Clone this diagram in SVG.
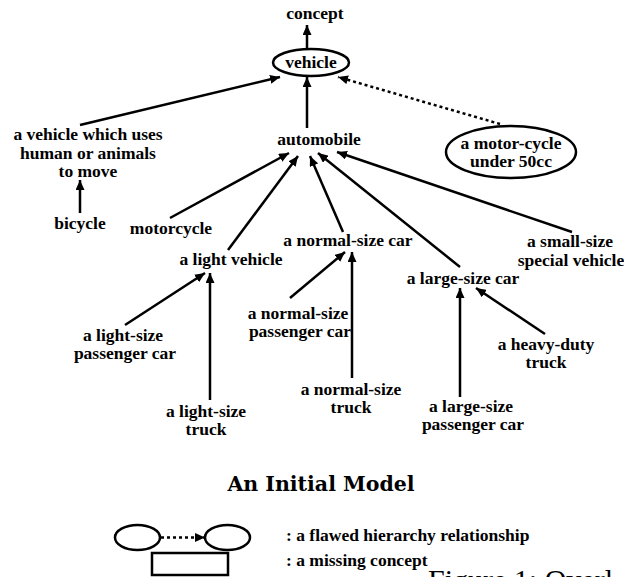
<svg xmlns="http://www.w3.org/2000/svg" width="624" height="577" viewBox="0 0 624 577">
<style>
text{font-family:"Liberation Serif","Times New Roman",serif;font-weight:bold;font-size:17.5px;fill:#000;text-anchor:middle}
.lg{text-anchor:start}
.cap{font-family:"DejaVu Serif",serif;font-size:20.5px}
.fig{font-weight:normal;font-size:30px;text-anchor:start}
.e{fill:#fff;stroke:#000;stroke-width:2.5}
.c line{stroke:#000;stroke-width:2.5;marker-end:url(#ah)}
.c .d{stroke-dasharray:3 3}
</style>
<defs>
<marker id="ah" markerUnits="userSpaceOnUse" markerWidth="11" markerHeight="9" refX="10" refY="4.5" orient="auto">
<path d="M0,0 L10,4.5 L0,9 z" fill="#000"/>
</marker>
</defs>
<rect width="624" height="577" fill="#fff"/>
<g class="c" id="connectors">
<line x1="307" y1="49" x2="307" y2="25"/>
<line x1="80" y1="125" x2="280" y2="77"/>
<line x1="307" y1="128" x2="307" y2="77"/>
<line class="d" x1="500" y1="124" x2="338" y2="77"/>
<line x1="80" y1="213" x2="80" y2="180"/>
<line x1="170" y1="218" x2="289" y2="153"/>
<line x1="228" y1="250" x2="298" y2="156"/>
<line x1="343" y1="232" x2="310" y2="156"/>
<line x1="460" y1="267" x2="318" y2="153"/>
<line x1="572" y1="232" x2="337" y2="152"/>
<line x1="125" y1="325" x2="205" y2="273"/>
<line x1="210" y1="400" x2="210" y2="273"/>
<line x1="290" y1="298" x2="345" y2="252"/>
<line x1="352" y1="378" x2="352" y2="252"/>
<line x1="460" y1="397" x2="460" y2="288"/>
<line x1="545" y1="334" x2="476" y2="288"/>
</g>
<g id="concept"><text x="315" y="19">concept</text></g>
<g id="vehicle"><ellipse class="e" cx="311" cy="62.5" rx="38" ry="13.5"/><text x="311" y="68">vehicle</text></g>
<g id="human-vehicle"><text x="88" y="140">a vehicle which uses</text><text x="88" y="159">human or animals</text><text x="88" y="177">to move</text></g>
<g id="automobile"><text x="319" y="145">automobile</text></g>
<g id="motorcycle-50cc"><ellipse class="e" cx="511" cy="152" rx="65" ry="26"/><text x="511" y="149">a motor-cycle</text><text x="511" y="167">under 50cc</text></g>
<g id="bicycle"><text x="80" y="229">bicycle</text></g>
<g id="motorcycle"><text x="171" y="234">motorcycle</text></g>
<g id="light-vehicle"><text x="231" y="265">a light vehicle</text></g>
<g id="normal-car"><text x="348" y="246">a normal-size car</text></g>
<g id="small-special"><text x="570" y="247">a small-size</text><text x="571" y="266">special vehicle</text></g>
<g id="large-car"><text x="463" y="284">a large-size car</text></g>
<g id="heavy-truck"><text x="546" y="350">a heavy-duty</text><text x="546" y="368">truck</text></g>
<g id="large-passenger"><text x="471" y="412">a large-size</text><text x="473" y="430">passenger car</text></g>
<g id="normal-truck"><text x="351" y="395">a normal-size</text><text x="351" y="413">truck</text></g>
<g id="normal-passenger"><text x="298" y="319">a normal-size</text><text x="300" y="337">passenger car</text></g>
<g id="light-passenger"><text x="123" y="341">a light-size</text><text x="125" y="359">passenger car</text></g>
<g id="light-truck"><text x="206" y="417">a light-size</text><text x="206" y="435">truck</text></g>
<g id="title"><text class="cap" x="321" y="491">An Initial Model</text></g>
<g id="legend">
<ellipse class="e" cx="137.5" cy="537.5" rx="22.5" ry="12.5"/>
<ellipse class="e" cx="227.5" cy="537.5" rx="22.5" ry="12.5"/>
<g class="c"><line class="d" x1="161" y1="537.5" x2="205" y2="537.5"/></g>
<rect x="152" y="553" width="76" height="22" fill="#fff" stroke="#000" stroke-width="2.5"/>
<text class="lg" x="286" y="541">: a flawed hierarchy relationship</text>
<text class="lg" x="286" y="566">: a missing concept</text>
</g>
<text class="fig" x="428" y="590">Figure 1: Overl</text>
</svg>
